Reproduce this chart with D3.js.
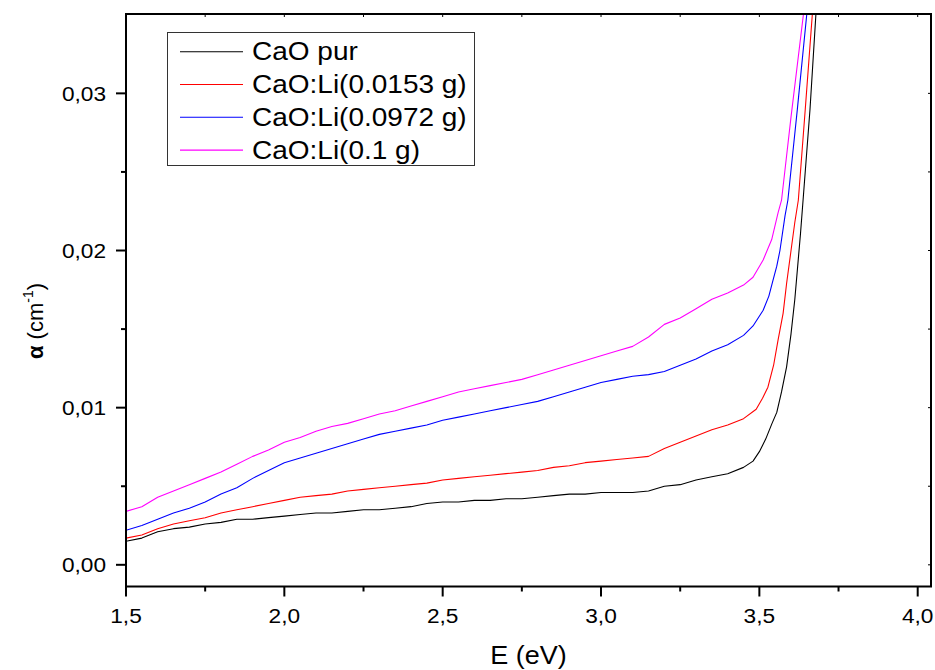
<!DOCTYPE html>
<html>
<head>
<meta charset="utf-8">
<script src="https://cdn.jsdelivr.net/npm/d3@7"></script>
<style>
  html, body { margin: 0; padding: 0; background: #fff; }
  svg { display: block; }
  text { font-family: "Liberation Sans", Arial, sans-serif; fill: #000; }
</style>
</head>
<body>
<svg id="chart" width="935" height="670"></svg>
<script>
// ---------------- DATA ----------------
const seriesNames = ["CaO pur", "CaO:Li(0.0153 g)", "CaO:Li(0.0972 g)", "CaO:Li(0.1 g)"];
const seriesColors = ["#000000", "#ff0000", "#0000ff", "#ff00ff"];

const energyFlat = [1.50,1.55,1.60,1.65,1.70,1.75,1.80,1.85,1.90,1.95,
                    2.00,2.05,2.10,2.15,2.20,2.25,2.30,2.35,2.40,2.45,
                    2.50,2.55,2.60,2.65,2.70,2.75,2.80,2.85,2.90,2.95,
                    3.00,3.05,3.10,3.15,3.20,3.25,3.30,3.35,3.40,3.45];

const alphaPur = [0.0015,0.0017,0.0021,0.0023,0.0024,0.0026,0.0027,0.0029,0.0029,0.0030,
                  0.0031,0.0032,0.0033,0.0033,0.0034,0.0035,0.0035,0.0036,0.0037,0.0039,
                  0.0040,0.0040,0.0041,0.0041,0.0042,0.0042,0.0043,0.0044,0.0045,0.0045,
                  0.0046,0.0046,0.0046,0.0047,0.0050,0.0051,0.0054,0.0056,0.0058,0.0062];
const energyTailPur = [3.48,3.50,3.52,3.54,3.555,3.57,3.586,3.60,3.612,3.63,3.638,3.66,3.68];
const alphaTailPur  = [0.0066,0.0072,0.0080,0.0090,0.0097,0.0110,0.0126,0.0147,0.0169,0.0211,0.0232,0.0290,0.0355];

const alphaLi1 = [0.0017,0.0019,0.0023,0.0026,0.0028,0.0030,0.0033,0.0035,0.0037,0.0039,
                  0.0041,0.0043,0.0044,0.0045,0.0047,0.0048,0.0049,0.0050,0.0051,0.0052,
                  0.0054,0.0055,0.0056,0.0057,0.0058,0.0059,0.0060,0.0062,0.0063,0.0065,
                  0.0066,0.0067,0.0068,0.0069,0.0074,0.0078,0.0082,0.0086,0.0089,0.0093];
const energyTailLi1 = [3.49,3.51,3.527,3.545,3.559,3.575,3.586,3.60,3.612,3.623,3.645,3.669];
const alphaTailLi1  = [0.0099,0.0106,0.0113,0.0127,0.0143,0.0160,0.0179,0.0200,0.0218,0.0232,0.0290,0.0355];

const alphaLi2 = [0.0022,0.0025,0.0029,0.0033,0.0036,0.0040,0.0045,0.0049,0.0055,0.0060,
                  0.0065,0.0068,0.0071,0.0074,0.0077,0.0080,0.0083,0.0085,0.0087,0.0089,
                  0.0092,0.0094,0.0096,0.0098,0.0100,0.0102,0.0104,0.0107,0.0110,0.0113,
                  0.0116,0.0118,0.0120,0.0121,0.0123,0.0127,0.0131,0.0136,0.0140,0.0146];
const energyTailLi2 = [3.48,3.512,3.53,3.543,3.555,3.565,3.581,3.59,3.62,3.652];
const alphaTailLi2  = [0.0152,0.0162,0.0171,0.0181,0.0190,0.0200,0.0222,0.0232,0.0290,0.0355];

const alphaLi3 = [0.0034,0.0037,0.0043,0.0047,0.0051,0.0055,0.0059,0.0064,0.0069,0.0073,
                  0.0078,0.0081,0.0085,0.0088,0.0090,0.0093,0.0096,0.0098,0.0101,0.0104,
                  0.0107,0.0110,0.0112,0.0114,0.0116,0.0118,0.0121,0.0124,0.0127,0.0130,
                  0.0133,0.0136,0.0139,0.0145,0.0153,0.0157,0.0163,0.0169,0.0173,0.0178];
const energyTailLi3 = [3.48,3.512,3.539,3.559,3.57,3.60,3.642];
const alphaTailLi3  = [0.0183,0.0194,0.0207,0.0224,0.0232,0.0285,0.0355];

const xMajorTicks = [1.5, 2.0, 2.5, 3.0, 3.5, 4.0];
const xMinorTicks = [1.75, 2.25, 2.75, 3.25, 3.75];
const yMajorTicks = [0.00, 0.01, 0.02, 0.03];
const yMinorTicks = [0.005, 0.015, 0.025];
const xTickLabels = ["1,5", "2,0", "2,5", "3,0", "3,5", "4,0"];
const yTickLabels = ["0,00", "0,01", "0,02", "0,03"];

// ---------------- BUILD ----------------
const tails = [[energyTailPur, alphaTailPur], [energyTailLi1, alphaTailLi1],
               [energyTailLi2, alphaTailLi2], [energyTailLi3, alphaTailLi3]];
const flats = [alphaPur, alphaLi1, alphaLi2, alphaLi3];
const series = seriesNames.map((name, i) => {
  const pts = energyFlat.map((e, k) => ({x: e, y: flats[i][k]}));
  tails[i][0].forEach((e, k) => pts.push({x: e, y: tails[i][1][k]}));
  return {name, color: seriesColors[i], pts};
});

const L = 126, R = 931, T = 14, B = 586.5;
const x = d3.scaleLinear().domain([1.5, 4.042]).range([L, R]);
const y = d3.scaleLinear().domain([-0.00138, 0.03505]).range([B, T]);

const svg = d3.select("#chart");
svg.append("defs").append("clipPath").attr("id", "clip")
  .append("rect").attr("x", L).attr("y", T).attr("width", R - L).attr("height", B - T);

// curves
const line = d3.line().x(d => x(d.x)).y(d => y(d.y)).curve(d3.curveLinear);
const gLines = svg.append("g").attr("clip-path", "url(#clip)");
series.forEach(s => {
  gLines.append("path").datum(s.pts).attr("d", line)
    .attr("fill", "none").attr("stroke", s.color).attr("stroke-width", 1.1)
    .attr("stroke-linejoin", "round");
});

// frame
svg.append("rect").attr("x", L).attr("y", T).attr("width", R - L).attr("height", B - T)
  .attr("fill", "none").attr("stroke", "#000").attr("stroke-width", 2);

// bottom axis ticks (outward)
const gx = svg.append("g").attr("stroke", "#000").attr("stroke-width", 2);
xMajorTicks.forEach(v => gx.append("line").attr("x1", x(v)).attr("x2", x(v)).attr("y1", B).attr("y2", B + 10));
xMinorTicks.forEach(v => gx.append("line").attr("x1", x(v)).attr("x2", x(v)).attr("y1", B).attr("y2", B + 5));
// top axis small inward ticks
xMajorTicks.concat(xMinorTicks).forEach(v => {
  if (x(v) > L + 2 && x(v) < R - 2)
    gx.append("line").attr("x1", x(v)).attr("x2", x(v)).attr("y1", T).attr("y2", T + 3).attr("stroke-width", 1);
});
// left axis ticks (outward)
yMajorTicks.forEach(v => gx.append("line").attr("y1", y(v)).attr("y2", y(v)).attr("x1", L).attr("x2", L - 10));
yMinorTicks.forEach(v => gx.append("line").attr("y1", y(v)).attr("y2", y(v)).attr("x1", L).attr("x2", L - 5));
// right axis small inward ticks
yMajorTicks.concat(yMinorTicks).forEach(v => {
  gx.append("line").attr("y1", y(v)).attr("y2", y(v)).attr("x1", R).attr("x2", R - 3).attr("stroke-width", 1);
});

// tick labels
function stretched(parent, tx, ty, txt, size, anchor, sx) {
  return parent.append("text")
    .attr("transform", `translate(${tx},${ty}) scale(${sx},1)`)
    .attr("text-anchor", anchor).attr("font-size", size).text(txt);
}
xMajorTicks.forEach((v, i) => stretched(svg, x(v), 623, xTickLabels[i], 21, "middle", 1.08));
yMajorTicks.forEach((v, i) => stretched(svg, 106, y(v) + 7.5, yTickLabels[i], 21, "end", 1.08));

// axis titles
stretched(svg, (L + R) / 2, 664, "E (eV)", 25, "middle", 1.08);
const yt = svg.append("text")
  .attr("transform", "translate(43,321) rotate(-90)")
  .attr("text-anchor", "middle").attr("font-size", 22);
yt.append("tspan").attr("font-weight", "bold").text("α");
yt.append("tspan").text(" (cm");
yt.append("tspan").attr("font-size", 14).attr("dy", -10).text("-1");
yt.append("tspan").attr("dy", 10).text(")");

// legend
const lg = svg.append("g");
lg.append("rect").attr("x", 167.5).attr("y", 32.5).attr("width", 307).attr("height", 133)
  .attr("fill", "#fff").attr("stroke", "#333").attr("stroke-width", 1);
series.forEach((s, i) => {
  const ly = 51.7 + i * 32.8;
  lg.append("line").attr("x1", 180).attr("x2", 243).attr("y1", ly).attr("y2", ly)
    .attr("stroke", s.color).attr("stroke-width", 1.1);
  stretched(lg, 252, ly + 8.5, s.name, 25, "start", 1.12);
});
</script>
</body>
</html>
